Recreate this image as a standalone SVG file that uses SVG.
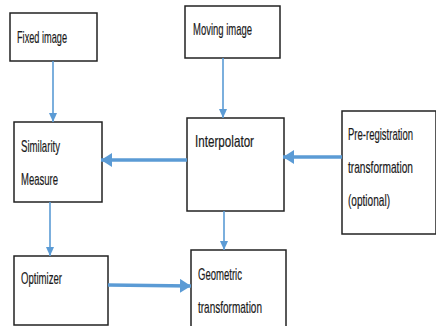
<svg xmlns="http://www.w3.org/2000/svg" width="436" height="326" viewBox="0 0 436 326">
<style>
.box{fill:#fff;stroke:#222;stroke-width:1.5}
.t{font-family:"Liberation Sans",Arial,sans-serif;font-size:17px;fill:#1a1a1a;stroke:#1a1a1a;stroke-width:0.2}
.thin{stroke:#5b9bd5;stroke-width:1.6;fill:none}
.thick{stroke:#5b9bd5;stroke-width:3.5;fill:none}
</style>
<defs>
<marker id="ah" markerWidth="10" markerHeight="10" refX="9" refY="5" orient="auto" markerUnits="userSpaceOnUse"><path d="M0,1 L9,5 L0,9 Z" fill="#5b9bd5"/></marker>
<marker id="ahb" markerWidth="12" markerHeight="14" refX="11" refY="7" orient="auto" markerUnits="userSpaceOnUse"><path d="M0,0 L11,7 L0,14 Z" fill="#5b9bd5"/></marker>
</defs>
<rect width="436" height="326" fill="#fff"/>
<g id="fixed"><rect class="box" x="10" y="13" width="87" height="48"/><text class="t" x="17" y="43" textLength="50" lengthAdjust="spacingAndGlyphs">Fixed image</text></g>
<g id="moving"><rect class="box" x="185" y="6" width="95" height="52"/><text class="t" x="193" y="35" textLength="59" lengthAdjust="spacingAndGlyphs">Moving image</text></g>
<g id="similarity"><rect class="box" x="14" y="122" width="88" height="80"/><text class="t" x="21" y="152" textLength="39" lengthAdjust="spacingAndGlyphs">Similarity</text><text class="t" x="21" y="185" textLength="37" lengthAdjust="spacingAndGlyphs">Measure</text></g>
<g id="interpolator"><rect class="box" x="187" y="118" width="97" height="93"/><text class="t" x="195" y="147" textLength="59" lengthAdjust="spacingAndGlyphs">Interpolator</text></g>
<g id="prereg"><rect class="box" x="342" y="111" width="94" height="123"/><text class="t" x="348" y="140" textLength="65" lengthAdjust="spacingAndGlyphs">Pre-registration</text><text class="t" x="348" y="173" textLength="65" lengthAdjust="spacingAndGlyphs">transformation</text><text class="t" x="348" y="206" textLength="42" lengthAdjust="spacingAndGlyphs">(optional)</text></g>
<g id="optimizer"><rect class="box" x="14" y="256" width="94" height="69"/><text class="t" x="21" y="284" textLength="41" lengthAdjust="spacingAndGlyphs">Optimizer</text></g>
<g id="geometric"><rect class="box" x="191" y="250" width="95" height="80"/><text class="t" x="198" y="280" textLength="44" lengthAdjust="spacingAndGlyphs">Geometric</text><text class="t" x="198" y="313" textLength="64" lengthAdjust="spacingAndGlyphs">transformation</text></g>
<g id="connectors">
<line class="thin" x1="53" y1="61" x2="53" y2="122" marker-end="url(#ah)"/>
<line class="thin" x1="223" y1="58" x2="223" y2="118" marker-end="url(#ah)"/>
<line class="thin" x1="50" y1="202" x2="50" y2="256" marker-end="url(#ah)"/>
<line class="thin" x1="224" y1="211" x2="224" y2="250" marker-end="url(#ah)"/>
<line class="thick" x1="187" y1="160" x2="101" y2="160" marker-end="url(#ahb)"/>
<line class="thick" x1="342" y1="157" x2="283" y2="157" marker-end="url(#ahb)"/>
<line class="thick" x1="108" y1="285" x2="191" y2="286" marker-end="url(#ahb)"/>
</g>
</svg>
